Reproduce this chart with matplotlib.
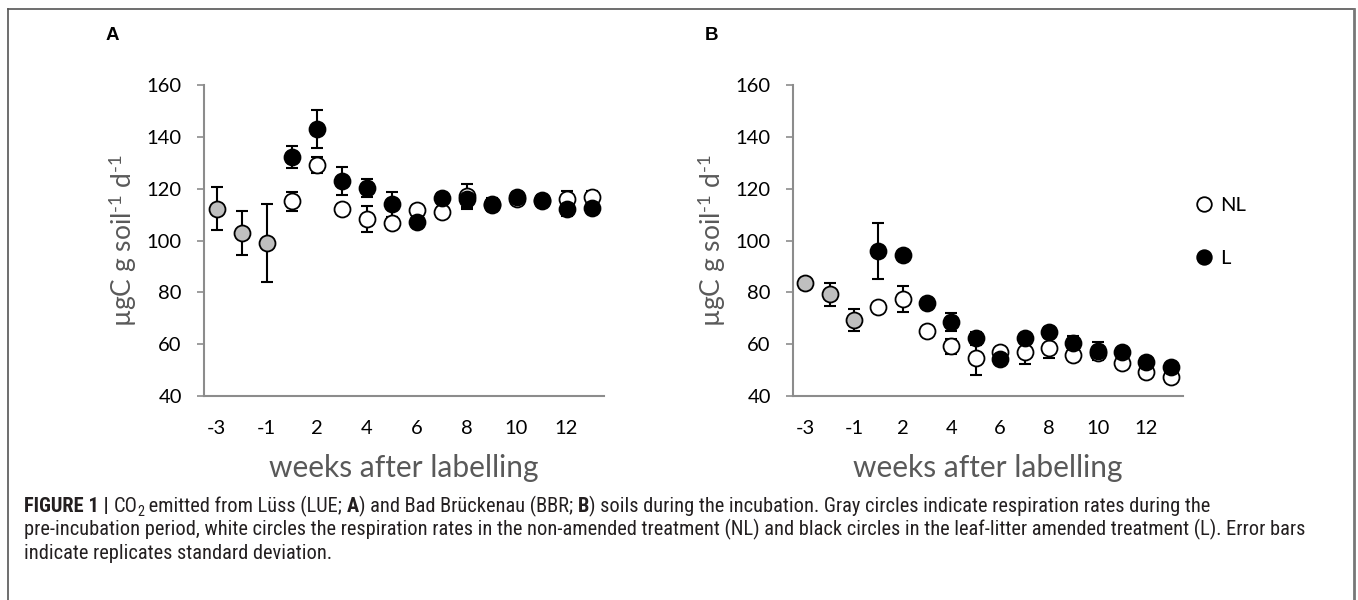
import matplotlib
matplotlib.use("Agg")
import matplotlib.pyplot as plt
from matplotlib.lines import Line2D
from matplotlib import font_manager
import numpy as np

# ---------------- data ----------------
weeks = ["-3", "-2", "-1", "1", "2", "3", "4", "5", "6", "7", "8", "9", "10", "11", "12", "13"]
pre_weeks = ["-3", "-2", "-1"]
post_weeks = ["1", "2", "3", "4", "5", "6", "7", "8", "9", "10", "11", "12", "13"]
shown_ticks = ["-3", "-1", "2", "4", "6", "8", "10", "12"]

# Panel A (LUE)
A_pre = [112.3, 103.0, 99.1]
A_pre_sd = [8.3, 8.5, 15.0]
A_NL = [115.2, 129.1, 112.1, 108.2, 106.9, 111.7, 111.1, 117.0, 113.8, 116.0, 115.2, 116.2, 116.6]
A_NL_sd = [3.7, 3.0, 2.0, 5.0, 2.0, 2.0, 2.0, 4.8, 2.5, 2.0, 2.0, 3.0, 2.5]
A_L = [132.3, 143.0, 122.9, 120.1, 113.9, 107.2, 116.5, 115.9, 114.0, 116.8, 115.6, 112.1, 112.6]
A_L_sd = [4.3, 7.5, 5.5, 3.5, 5.0, 1.5, 2.0, 3.0, 2.0, 2.0, 2.0, 2.7, 2.0]

# Panel B (BBR)
B_pre = [83.7, 79.2, 69.4]
B_pre_sd = [1.5, 4.4, 4.2]
B_NL = [74.4, 77.5, 65.1, 59.1, 54.5, 57.0, 56.8, 58.6, 55.8, 56.5, 52.8, 49.3, 47.4]
B_NL_sd = [1.5, 5.0, 1.5, 3.0, 6.5, 1.5, 4.5, 3.8, 1.5, 1.5, 1.5, 1.5, 1.5]
B_L = [96.0, 94.5, 76.0, 68.4, 62.3, 54.2, 62.4, 64.8, 60.3, 57.3, 56.8, 53.2, 51.0]
B_L_sd = [10.8, 1.5, 1.5, 3.5, 2.5, 2.0, 1.5, 2.0, 3.0, 3.5, 1.5, 1.5, 1.5]

y_ticks = [40, 60, 80, 100, 120, 140, 160]
ylabel = "µgC g soil$^{\\mathregular{\u2010}1}$ d$^{\\mathregular{\u2010}1}$"
xlabel = "weeks after labelling"

caption_lines = [
    [("FIGURE 1 | ", "bold", 0), ("CO", "normal", 0), ("2", "normal", -1),
     (" emitted from Lüss (LUE; ", "normal", 0), ("A", "bold", 0),
     (") and Bad Brückenau (BBR; ", "normal", 0), ("B", "bold", 0),
     (") soils during the incubation. Gray circles indicate respiration rates during the", "normal", 0)],
    [("pre-incubation period, white circles the respiration rates in the non-amended treatment (NL) and black circles in the leaf-litter amended treatment (L). Error bars", "normal", 0)],
    [("indicate replicates standard deviation.", "normal", 0)],
]

# ---------------- style ----------------
W, H = 1358, 600
plt.rcParams["font.family"] = ["Lato", "DejaVu Sans"]
plt.rcParams["mathtext.fontset"] = "custom"
plt.rcParams["mathtext.rm"] = "Lato"
plt.rcParams["mathtext.it"] = "Lato:italic"
plt.rcParams["mathtext.bf"] = "Lato:bold"

fig = plt.figure(figsize=(W / 100, H / 100), dpi=100)
fig.patch.set_facecolor("white")

axis_grey = "#8c8c8c"
label_grey = "#595959"
pre_grey = "#bfbfbf"


def px_axes(x0, x1, ytop, ybot):
    return [x0 / W, 1 - ybot / H, (x1 - x0) / W, (ybot - ytop) / H]


def panel(rect, pre, pre_sd, nl, nl_sd, l, l_sd):
    ax = fig.add_axes(rect)
    xpos = {w: i for i, w in enumerate(weeks)}
    xp = [xpos[w] for w in pre_weeks]
    xw = [xpos[w] for w in post_weeks]
    ekw = dict(fmt="none", ecolor="black", elinewidth=1.5, capsize=4.5, capthick=1.5)
    ax.errorbar(xp, pre, yerr=pre_sd, zorder=2, **ekw)
    ax.errorbar(xw, nl, yerr=nl_sd, zorder=2, **ekw)
    ax.errorbar(xw, l, yerr=l_sd, zorder=2, **ekw)
    mkw = dict(linestyle="none", marker="o", markersize=11.5, markeredgecolor="black", markeredgewidth=1.3)
    ax.plot(xp, pre, markerfacecolor=pre_grey, zorder=3, **mkw)
    hNL, = ax.plot(xw, nl, markerfacecolor="white", zorder=3, label="NL", **mkw)
    hL, = ax.plot(xw, l, markerfacecolor="black", zorder=4, label="L", **mkw)
    ax.set_xlim(-0.5, len(weeks) - 0.5)
    ax.set_ylim(40, 160)
    ax.set_yticks(y_ticks)
    ax.set_yticklabels([str(v) for v in y_ticks], fontsize=14.5, color="black")
    ax.set_xticks([xpos[w] for w in shown_ticks])
    ax.set_xticklabels(shown_ticks, fontsize=14.5, color="black")
    ax.tick_params(axis="x", length=0, pad=17)
    ax.tick_params(axis="y", length=5, width=1.2, color=axis_grey, pad=11)
    for s in ["top", "right"]:
        ax.spines[s].set_visible(False)
    for s in ["left", "bottom"]:
        ax.spines[s].set_color(axis_grey)
        ax.spines[s].set_linewidth(1.5)
    ax.set_facecolor("none")
    ax.set_ylabel(ylabel, fontsize=19, color=label_grey, va="center")
    ax.set_xlabel(xlabel, fontsize=21.5, color=label_grey, va="center")
    return ax, hNL, hL


axA, _, _ = panel(px_axes(204, 604, 85, 396), A_pre, A_pre_sd, A_NL, A_NL_sd, A_L, A_L_sd)
axB, hNL, hL = panel(px_axes(793, 1183, 85, 396), B_pre, B_pre_sd, B_NL, B_NL_sd, B_L, B_L_sd)
axA.yaxis.set_label_coords(-81 / 400, 0.5)
axB.yaxis.set_label_coords(-81 / 390, 0.5)
axA.xaxis.set_label_coords(0.5, -(468 - 396) / 311)
axB.xaxis.set_label_coords(0.5, -(468 - 396) / 311)

# legend
leg_handles = [Line2D([], [], linestyle="none", marker="o", markersize=10.5, markerfacecolor="white",
                      markeredgecolor="black", markeredgewidth=1.3),
               Line2D([], [], linestyle="none", marker="o", markersize=10.5, markerfacecolor="black",
                      markeredgecolor="black", markeredgewidth=1.3)]
fig.legend(leg_handles, ["NL", "L"], loc="center left", bbox_to_anchor=(1196 / W, 1 - 232 / H),
           frameon=False, fontsize=14.5, handlelength=0.8, handletextpad=0.4, labelspacing=1.75,
           borderpad=0, borderaxespad=0)

# panel letters
fig.text(112 / W, 1 - 35 / H, "A", fontsize=13.5, fontweight="bold", family=["Liberation Sans", "DejaVu Sans"],
         ha="center", va="center")
fig.text(712 / W, 1 - 35 / H, "B", fontsize=13.5, fontweight="bold", family=["Liberation Sans", "DejaVu Sans"],
         ha="center", va="center")

# outer frame (left, top, right)
frame_col = "#555555"
fig.add_artist(Line2D([8 / W, 8 / W], [0, 1 - 9 / H], color=frame_col, lw=1.2, transform=fig.transFigure))
fig.add_artist(Line2D([8 / W, 1354 / W], [1 - 9 / H, 1 - 9 / H], color=frame_col, lw=1.2, transform=fig.transFigure))
fig.add_artist(Line2D([1354 / W, 1354 / W], [0, 1 - 9 / H], color="#777777", lw=2.0, transform=fig.transFigure))

# caption, drawn piece by piece
renderer = fig.canvas.get_renderer()
installed = {f.name for f in font_manager.fontManager.ttflist}
cap_family = [f for f in ["Liberation Sans Narrow", "Roboto Condensed", "Liberation Sans"] if f in installed] + ["DejaVu Sans"]
cap_color = "#231f20"


def draw_line(pieces, x0, ybase, size):
    arts = []
    x = x0
    for txt, wt, sub in pieces:
        fs = size * (0.7 if sub else 1.0)
        dy = -0.25 * size if sub else 0
        t = fig.text(x / W, 1 - (ybase - dy) / H, txt, fontsize=fs, fontweight=wt, family=cap_family,
                     color=cap_color, ha="left", va="baseline")
        bb = t.get_window_extent(renderer)
        x += bb.width
        arts.append(t)
    return arts, x - x0


base_size = 10.5
arts1, w1 = draw_line(caption_lines[0], 24, 512, base_size)
arts2, w2 = draw_line(caption_lines[1], 24, 512, base_size)
for a in arts1 + arts2:
    a.remove()
size = base_size * (1213 + 1270) / (w1 + w2)
for i, line in enumerate(caption_lines):
    draw_line(line, 24, 512 + i * 23.5, size)

fig.savefig("out.png", dpi=100, facecolor="white")
